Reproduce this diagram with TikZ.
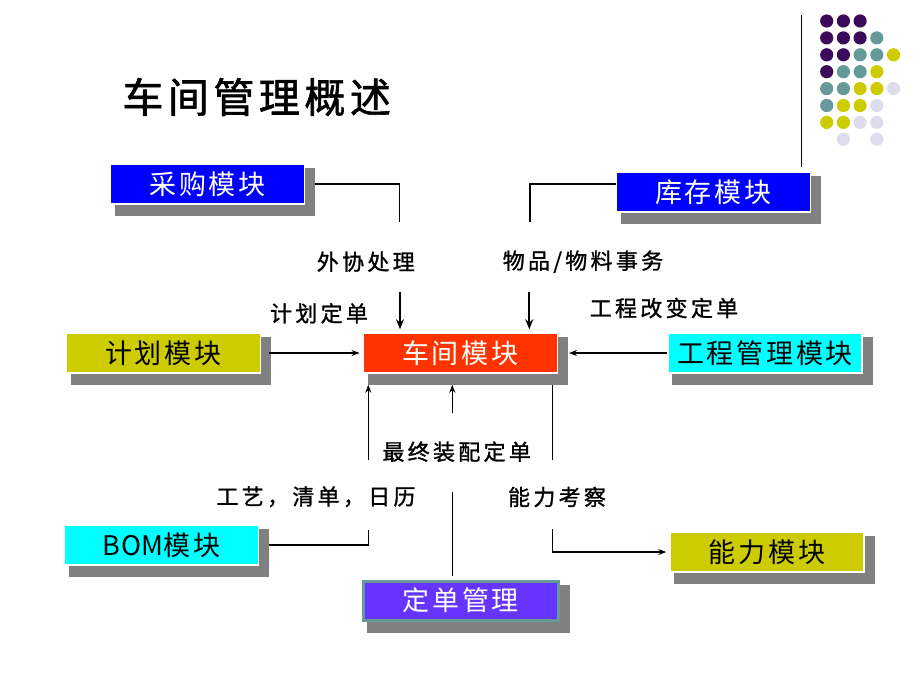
\documentclass[tikz,border=0pt]{standalone}
\usepackage{fontspec}
\setmainfont{Noto Sans CJK SC}
\newfontfamily\boxfont{Noto Sans CJK SC}[LetterSpace=10]
\newfontfamily\bomfont{Noto Sans CJK SC}[LetterSpace=2]
\newfontfamily\labfont{Noto Sans CJK SC}[LetterSpace=15,FakeBold=1.2]
\newfontfamily\titfont{Noto Sans CJK SC}[LetterSpace=11,FakeBold=1.5]
\usetikzlibrary{arrows.meta,backgrounds,calc}
\definecolor{dotP}{RGB}{60,10,90}
\definecolor{dotT}{RGB}{102,153,153}
\definecolor{dotY}{RGB}{204,204,0}
\definecolor{dotL}{RGB}{221,221,238}
\definecolor{cBlue}{RGB}{0,0,255}
\definecolor{cRed}{RGB}{255,51,0}
\definecolor{cOlive}{RGB}{204,204,0}
\definecolor{cCyan}{RGB}{0,255,255}
\definecolor{cViolet}{RGB}{102,51,255}
\definecolor{cBorder}{RGB}{102,153,153}
\definecolor{cShadow}{RGB}{128,128,128}
\begin{document}
\begin{tikzpicture}[x=1pt,y=-1pt,
  modbox/.style={rectangle, draw=white, line width=1.5pt, inner sep=0pt,
    minimum width=194pt, minimum height=40pt,
    font=\boxfont\fontsize{27}{30}\selectfont},
  lab/.style={inner sep=0pt, font=\labfont\fontsize{22}{26}\selectfont},
  conn/.style={line width=1.2pt, black},
  thinarrow/.style={conn, -{Stealth[length=8pt,width=6pt]}},
  thickarrow/.style={line width=2.2pt, -{Stealth[length=10pt,width=8pt]}},
  dot/.style={radius=6.6pt}
]
\useasboundingbox (0,0) rectangle (920,690);

% decorative dots and bar
\draw[line width=1.3pt] (801.7,15) -- (801.7,167);
\foreach \row/\cols in {0/{0/dotP,1/dotP,2/dotP},
                        1/{0/dotP,1/dotP,2/dotP,3/dotT},
                        2/{0/dotP,1/dotP,2/dotT,3/dotT,4/dotY},
                        3/{0/dotP,1/dotT,2/dotT,3/dotY},
                        4/{0/dotT,1/dotT,2/dotY,3/dotY,4/dotL},
                        5/{0/dotT,1/dotY,2/dotY,3/dotL},
                        6/{0/dotY,1/dotY,2/dotL,3/dotL},
                        7/{1/dotL,3/dotL}}{
  \foreach \c/\col in \cols {
    \fill[\col] (826.7+16.7*\c, 21+16.9*\row) circle[dot];
  }
}

% title
\node[font=\titfont\fontsize{41}{46}\selectfont, inner sep=0pt] (title) at (256.7,97) {车间管理概述};

% module boxes
\node[modbox, fill=cBlue, text=white] (cg) at (207.5,184) {采购模块};
\node[modbox, fill=cBlue, text=white] (kc) at (713.3,192) {库存模块};
\node[modbox, fill=cOlive, text=black] (jh) at (163.3,353) {计划模块};
\node[modbox, fill=cRed, text=white] (cj) at (460.3,353) {车间模块};
\node[modbox, fill=cCyan, text=black] (gc) at (765,353) {工程管理模块};
\node[modbox, fill=cCyan, text=black] (bom) at (161.7,545) {{\bomfont BOM}模块};
\node[modbox, fill=cViolet, draw=cBorder, line width=3pt, text=white,
      minimum width=195pt, minimum height=39pt] (dd) at (460.8,600.5) {定单管理};
\node[modbox, fill=cOlive, text=black] (nl) at (767,552) {能力模块};

\begin{scope}[on background layer]
  \foreach \n in {cg,kc,jh,cj,gc,bom,dd,nl}{
    \fill[cShadow] ($(\n.north west)+(5,5)$) rectangle ($(\n.south east)+(10,11)$);
  }
\end{scope}

% labels
\node[lab] (wx) at (365.8,261.7) {外协处理};
\node[lab] (wp) at (583,261.7) {物品/物料事务};
\node[lab] (jhd) at (319,313.3) {计划定单};
\node[lab] (gcd) at (664,308) {工程改变定单};
\node[lab] (zz) at (456.7,451.7) {最终装配定单};
\node[lab] (gy) at (316,496.7) {工艺，清单，日历};
\node[lab] (nk) at (557,497) {能力考察};

% free ends
\coordinate (e1) at (399.3,221.7);
\coordinate (e2) at (530,221.7);
\coordinate (a1) at (400,291.7);
\coordinate (a2) at (529.3,291.7);
\coordinate (b1) at (368.3,460);
\coordinate (b2) at (452.3,413.3);
\coordinate (b3) at (552.3,460);
\coordinate (v1) at (452.3,491.7);
\coordinate (e3) at (368.3,530);
\coordinate (e4) at (552.3,529.3);

% connectors
\draw[conn] ([xshift=10pt]cg.east) -| (e1);
\draw[conn] ([yshift=8pt]kc.west) -| (e2);
\draw[thickarrow, shorten >=3pt] (a1) -- (a1 |- cj.north);
\draw[thickarrow, shorten >=3pt] (a2) -- (a2 |- cj.north);
\draw[thinarrow, shorten >=3pt] ([xshift=8pt]jh.east) -- (cj.west);
\draw[thinarrow] (gc.west) -- ([xshift=11pt]cj.east);
\draw[thinarrow] (b1) -- ([yshift=-11pt]b1 |- cj.south);
\draw[thinarrow] (b2) -- ([yshift=-11pt]b2 |- cj.south);
\draw[conn] ([yshift=-11pt]b3 |- cj.south) -- (b3);
\draw[conn, shorten >=4pt] (v1) -- (v1 |- dd.north);
\draw[conn] ([xshift=10pt]bom.east) -| (e3);
\draw[thinarrow, shorten >=3pt] (e4) |- (nl.west);
\end{tikzpicture}
\end{document}
